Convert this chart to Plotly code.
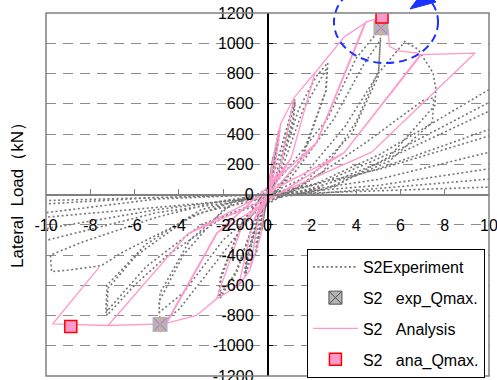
import plotly.graph_objects as go

# ---------------- data ----------------
x_ticks = [-10, -8, -6, -4, -2, 0, 2, 4, 6, 8, 10]
y_ticks = [-1200, -1000, -800, -600, -400, -200, 0, 200, 400, 600, 800, 1000, 1200]

# Experiment hysteresis (displacement, load)
exp_x = [0, 0.25, 0.21, 0.0, -0.05, -0.25, -0.21, 0.0, 0.05,
         0.27, 0.22, 0.0, -0.06, -0.27, -0.22, 0.0, 0.06,
         0.5, 0.45, 0.1, -0.1, -0.5, -0.45, -0.1, 0.1,
         0.55, 0.49, 0.1, -0.12, -0.55, -0.48, -0.1, 0.12,
         0.6, 1.23, 1.15, 0.4, -0.2, -0.6, -1.0, -0.93, -0.3, 0.3,
         1.25, 1.16, 0.4, -0.3, -1.05, -0.96, -0.3, 0.4,
         1.4, 2.2, 2.72, 2.65, 1.6, 0.3, -0.6, -1.4, -2.14, -2.1, -1.2, -0.2,
         0.6, 1.6, 2.7, 2.62, 1.5, 0.2, -0.6, -1.4, -2.2, -2.12, -1.1, -0.1,
         0.8, 2.7, 4.0, 5.12, 5.02, 4.0, 2.5, 0.8, -0.5, -2.5, -4.0, -4.85, -4.9, -3.8, -2.0, -0.5,
         1.0, 3.0, 4.3, 5.1, 5.0, 3.8, 1.5, 0.0, -2.0, -3.8, -4.9, -4.85, -3.5, -1.5, 0.0,
         1.5, 3.5, 5.0, 6.2, 6.8, 7.47, 7.6, 7.56, 5.5, 3.0, 0.5, -2.0, -4.5, -6.0, -7.25, -7.2, -5.9, -3.5, -1.0,
         1.5, 4.5, 7.0, 7.5, 7.45, 5.5, 2.5, 0.0, -3.0, -5.5, -7.3, -7.25, -5.5, -3.0, 0.0,
         2.0, 5.08, 10.0, 11.5, 11.4, 10.0, 5.98, 2.5, 0.0, -3.0, -6.5, -7.5, -9.0, -9.75, -9.8, -8.33, -5.0, -2.0, 0.0,
         2.0, 5.08, 10.0, 14.0, 13.8, 10.0, 5.0, 1.0, -5.0, -10.0, -14.0, -13.8, -10.0, -5.0, 0.0,
         5.08, 10.0, 20.0, 19.5, 10.0, 5.0, 0.0, -5.0, -10.0, -20.0, -19.5, -10.0, -5.0, 0.0,
         5.0, 10.0, 25.0, 24.5, 10.0, 5.0, 0.0, -10.0, -25.0, -24.5, -10.0, 0.0, 10.0, 20.0]
exp_y = [0, 250, 190, 10, -30, -235, -180, -10, 30,
         255, 190, 5, -35, -240, -180, -5, 35,
         420, 330, 40, -40, -390, -310, -40, 40,
         430, 340, 30, -50, -400, -310, -30, 50,
         300, 628, 500, 100, -60, -330, -540, -430, -90, 80,
         610, 480, 80, -90, -530, -420, -60, 100,
         560, 780, 871, 690, 250, 0, -180, -500, -687, -555, -200, 0,
         150, 560, 840, 680, 230, 0, -180, -520, -670, -540, -170, 0,
         150, 500, 900, 1102, 820, 480, 150, 0, -100, -480, -760, -859, -709, -400, -100, 0,
         100, 500, 850, 1022, 780, 400, 50, -50, -300, -650, -780, -650, -300, -50, 0,
         100, 450, 800, 1011, 960, 805, 700, 590, 250, 50, -20, -150, -400, -600, -800, -620, -400, -150, -20,
         50, 350, 620, 640, 480, 220, 30, -30, -200, -480, -780, -600, -330, -100, 0,
         60, 266, 694, 780, 700, 609, 300, 80, -20, -120, -378, -470, -500, -510, -400, -313, -150, -40, 0,
         30, 212, 551, 750, 650, 430, 170, 0, -120, -304, -420, -300, -120, -30, 0,
         168, 387, 700, 560, 279, 100, -10, -100, -227, -500, -380, -62, -20, 0,
         60, 168, 500, 400, 102, 40, -20, -150, -400, -300, -40, 0, 49, 200]

# Analysis hysteresis (displacement, load)
ana_x = [0, 0.3, 0.15, -0.15, -0.3,
         -0.15, 0.15, 0.3, 0.6,
         0.3, -0.15, -0.3, -0.8,
         -0.4, 0.3, 0.6, 1.2,
         0.6, -0.4, -0.8, -1.3,
         -0.65, 0.6, 1.2, 2.14,
         1.07, -0.65, -1.3, -2.3,
         -1.15, 1.07, 2.14, 3.48, 4.39,
         2.2, -1.15, -2.3, -3.2, -4.55,
         -2.27, 2.2, 4.45,
         2.22, -2.27, -4.6,
         -2.3, 2.22, 4.45, 5.17, 5.45, 5.5, 5.9, 6.8, 6.9,
         3.45, -2.3, -4.6, -7.2,
         -3.6, 3.45, 6.9, 9.37,
         4.7, -3.6, -7.2, -8.88, -9.7, -7.6]
ana_y = [0, 280, 84, -81, -270,
         -81, 84, 280, 470,
         141, -81, -270, -500,
         -150, 141, 470, 640,
         192, -150, -500, -600,
         -180, 192, 640, 805,
         242, -180, -600, -690,
         -207, 242, 805, 1044, 1132,
         340, -207, -690, -800, -851,
         -255, 340, 1140,
         342, -255, -855,
         -256, 342, 1140, 1174, 1090, 980, 950, 935, 915,
         275, -256, -855, -866,
         -260, 275, 925, 935,
         280, -260, -866, -862, -856, -480]

exp_qmax_x = [5.12, -4.85]
exp_qmax_y = [1102, -859]
ana_qmax_x = [5.17, -8.88]
ana_qmax_y = [1174, -872]

FONT = "Liberation Sans"
PINK = "#ff99cc"
GRAY = "#767676"

fig = go.Figure()

fig.add_trace(go.Scatter(x=exp_x, y=exp_y, mode="lines", name="S2Experiment",
                         line=dict(color=GRAY, width=1.6, dash="2px,2.5px"),
                         legendgroup="g1", legendrank=1))
fig.add_trace(go.Scatter(x=ana_x, y=ana_y, mode="lines", name="S2\u00a0\u00a0\u00a0Analysis",
                         line=dict(color=PINK, width=1.3),
                         legendgroup="g3", legendrank=3))
# experiment Qmax markers (square + asterisk arms)
fig.add_trace(go.Scatter(x=exp_qmax_x, y=exp_qmax_y, mode="markers", showlegend=False,
                         marker=dict(symbol="square", size=15, color="#b4b4b4", line=dict(width=0))))
fig.add_trace(go.Scatter(x=exp_qmax_x, y=exp_qmax_y, mode="markers", showlegend=False,
                         marker=dict(symbol="x-thin-open", size=12, line=dict(color="#404040", width=1))))
fig.add_trace(go.Scatter(x=exp_qmax_x, y=exp_qmax_y, mode="markers", showlegend=False,
                         marker=dict(symbol="line-ns-open", size=12, line=dict(color="#404040", width=1))))
fig.add_trace(go.Scatter(x=[None], y=[None], mode="markers", name="S2\u00a0\u00a0\u00a0exp_Qmax.",
                         marker=dict(symbol="square-x", size=13, color="#b4b4b4",
                                     line=dict(color="#505050", width=1)),
                         legendgroup="g2", legendrank=2))
fig.add_trace(go.Scatter(x=ana_qmax_x, y=ana_qmax_y, mode="markers", name="S2\u00a0\u00a0\u00a0ana_Qmax.",
                         marker=dict(symbol="square", size=12, color=PINK,
                                     line=dict(color="#ff0000", width=1.5)),
                         legendgroup="g4", legendrank=4))

fig.update_layout(
    width=497, height=380,
    margin=dict(l=46, r=8, t=13, b=2),
    paper_bgcolor="white", plot_bgcolor="white",
    font=dict(family=FONT, size=16, color="black"),
    showlegend=True,
    legend=dict(x=0.589, y=0.35, xanchor="left", yanchor="top",
                bgcolor="white", bordercolor="black", borderwidth=1,
                font=dict(family=FONT, size=16, color="black"),
                traceorder="grouped", tracegroupgap=7, itemwidth=45),
    xaxis=dict(range=[-10, 10], tickmode="array", tickvals=x_ticks,
               ticktext=[str(v) for v in x_ticks],
               showgrid=False, zeroline=False, showline=True,
               linecolor="#808080", linewidth=1.5,
               anchor="free", position=0.5,
               ticks="inside", ticklen=5, tickcolor="#808080", tickwidth=1,
               ticklabelstandoff=17, ticklabeloverflow="allow",
               tickfont=dict(family=FONT, size=16, color="black"),
               automargin=False, layer="above traces"),
    yaxis=dict(range=[-1200, 1200], tickmode="array", tickvals=y_ticks,
               ticktext=[str(v) for v in y_ticks],
               showgrid=True, gridcolor="#8c8c8c", gridwidth=1, griddash="10px,7px",
               zeroline=False, showline=True, linecolor="black", linewidth=1.5,
               anchor="free", position=0.5,
               ticks="inside", ticklen=5, tickcolor="black", tickwidth=1,
               ticklabelstandoff=10, ticklabeloverflow="allow",
               tickfont=dict(family=FONT, size=16, color="black"),
               automargin=False, layer="above traces"),
    shapes=[
        dict(type="rect", xref="paper", yref="paper", x0=0, x1=1, y0=0, y1=1,
             line=dict(color="#808080", width=1.5), layer="above"),
        dict(type="circle", xref="paper", yref="paper", x0=0.650, x1=0.885, y0=0.862, y1=1.088,
             line=dict(color="#1a33ff", width=2, dash="8px,5px")),
        dict(type="path", xref="paper", yref="paper",
             path="M 0.8217 1.0110 L 0.8533 1.0630 L 0.8804 1.0301 Z",
             fillcolor="#1a33ff", line=dict(color="#1a33ff", width=1)),
    ],
    annotations=[
        dict(text="Lateral\u00a0\u00a0Load\uff08kN\uff09", xref="paper", yref="paper",
             x=-0.063, y=0.51, textangle=-90, showarrow=False,
             xanchor="center", yanchor="middle",
             font=dict(family=FONT, size=17, color="black")),
    ],
)

fig.write_html("out.html", config={"displayModeBar": False},
               post_script="document.body.style.margin='0';document.body.style.overflow='hidden';")
